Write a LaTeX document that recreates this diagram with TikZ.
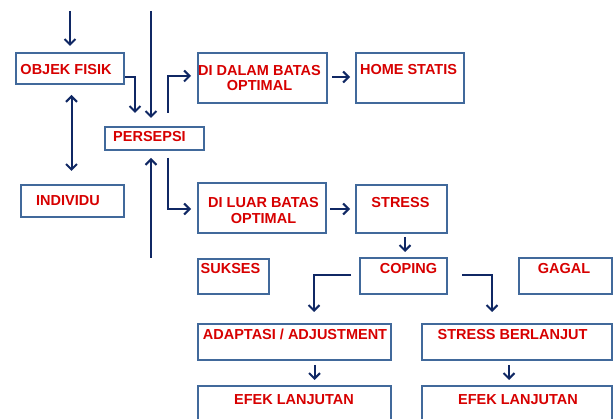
\documentclass[tikz,border=0pt]{standalone}
\usepackage{fontspec}
\setmainfont{Liberation Sans}
\usetikzlibrary{arrows.meta,calc}
\definecolor{boxc}{RGB}{65,105,155}
\definecolor{arrc}{RGB}{16,40,100}
\definecolor{txtc}{RGB}{215,0,0}
\begin{document}
\begin{tikzpicture}[x=1pt,y=-1pt,
  box/.style={draw=boxc,line width=2pt,anchor=north west,inner sep=0pt,fill=white},
  txt/.style={text=txtc,font=\bfseries\fontsize{14.5}{15.5}\selectfont,inner sep=0pt,align=center},
  tip/.style={Straight Barb[length=5.5pt,width=11pt]},
  arr/.style={draw=arrc,line width=2pt,-{Straight Barb[length=5.5pt,width=11pt]}},
  darr/.style={draw=arrc,line width=2pt,{Straight Barb[length=5.5pt,width=11pt]}-{Straight Barb[length=5.5pt,width=11pt]}}]
\useasboundingbox (0,0) rectangle (613,419);
\clip (0,0) rectangle (613,419);
\fill[white] (0,0) rectangle (613,419);
% boxes
\node[box,minimum width=108pt,minimum height=31pt] (objek) at (15,52) {};
\node[box,minimum width=99pt,minimum height=23pt] (persepsi) at (104,126) {};
\node[box,minimum width=103pt,minimum height=32pt] (individu) at (20,184) {};
\node[box,minimum width=129pt,minimum height=50pt] (dalam) at (197,52) {};
\node[box,minimum width=108pt,minimum height=50pt] (home) at (355,52) {};
\node[box,minimum width=128pt,minimum height=50pt] (luar) at (197,182) {};
\node[box,minimum width=91pt,minimum height=48pt] (stress) at (355,184) {};
\node[box,minimum width=71pt,minimum height=35pt] (sukses) at (197,258) {};
\node[box,minimum width=87pt,minimum height=36pt] (coping) at (359,257) {};
\node[box,minimum width=93pt,minimum height=36pt] (gagal) at (518,257) {};
\node[box,minimum width=193pt,minimum height=36pt] (adapt) at (197,323) {};
\node[box,minimum width=190pt,minimum height=36pt] (sb) at (421,323) {};
\node[box,minimum width=193pt,minimum height=45pt] (efekL) at (197,385) {};
\node[box,minimum width=190pt,minimum height=45pt] (efekR) at (421,385) {};
% texts
\node[txt] (t-objek) at (66,70) {OBJEK FISIK};
\node[txt] (t-persepsi) at (149.5,136.5) {PERSEPSI};
\node[txt] (t-individu) at (68,201) {INDIVIDU};
\node[txt] (t-dalam) at (259.5,78) {DI DALAM BATAS\\OPTIMAL};
\node[txt] (t-home) at (408.5,69.5) {HOME STATIS};
\node[txt] (t-luar) at (263.5,210.5) {DI LUAR BATAS\\OPTIMAL};
\node[txt] (t-stress) at (400.5,202.5) {STRESS};
\node[txt] (t-sukses) at (230.5,268.5) {SUKSES};
\node[txt] (t-coping) at (408.5,268.5) {COPING};
\node[txt] (t-gagal) at (564,268.5) {GAGAL};
\node[txt] (t-adapt) at (295,334.5) {ADAPTASI / ADJUSTMENT};
\node[txt] (t-sb) at (512.5,334.5) {STRESS BERLANJUT};
\node[txt] (t-efekL) at (294,399.5) {EFEK LANJUTAN};
\node[txt] (t-efekR) at (518,399.5) {EFEK LANJUTAN};
% free ends and helper points
\coordinate (in1) at (70,11);
\coordinate (in2) at (151,11);
\coordinate (in3) at (151,258);
\coordinate (oi1) at ($(objek.south)+(1.5,0)$);
\coordinate (oi2) at (oi1 |- individu.north);
\coordinate (sc1) at ($(stress.south)+(3.5,0)$);
\coordinate (sc2) at (sc1 |- coping.north);
% connectors
\draw[arr,shorten >=6pt] (in1) -- (in1 |- objek.north);
\draw[arr,shorten >=8pt] (in2) -- (in2 |- persepsi.north);
\draw[arr,shorten >=7pt] (in3) -- (in3 |- persepsi.south);
\draw[arr,shorten >=13pt] ($(objek.south east)+(0,-8)$) -| ($(persepsi.north west)+(31,0)$);
\draw[arr,shorten >=6pt] ($(persepsi.north)+(13.5,-13)$) |- ($(dalam.west)+(0,-2)$);
\draw[arr,shorten >=6pt] ($(persepsi.south)+(13.5,7)$) |- ($(luar.west)+(0,1)$);
\draw[darr,shorten <=10pt,shorten >=13pt] (oi1) -- (oi2);
\draw[arr,shorten <=4pt,shorten >=5pt] ($(dalam.east)+(0,-1)$) -- ($(home.west)+(0,-1)$);
\draw[arr,shorten <=3pt,shorten >=5pt] ($(luar.east)+(0,1)$) -- (stress.west);
\draw[arr,shorten <=3pt,shorten >=5pt] (sc1) -- (sc2);
\draw[arr,shorten <=8pt,shorten >=11pt] ($(coping.west)+(0,-1)$) -| ($(adapt.north)+(19.5,0)$);
\draw[arr,shorten <=14pt,shorten >=11pt] ($(coping.east)+(0,-1)$) -| ($(sb.north west)+(71,0)$);
\draw[arr,shorten <=4pt,shorten >=5pt] ($(adapt.south)+(20,0)$) -- ($(efekL.north)+(20,0)$);
\draw[arr,shorten <=4pt,shorten >=5pt] ($(sb.south west)+(88,0)$) -- ($(efekR.north west)+(88,0)$);
\end{tikzpicture}
\end{document}
